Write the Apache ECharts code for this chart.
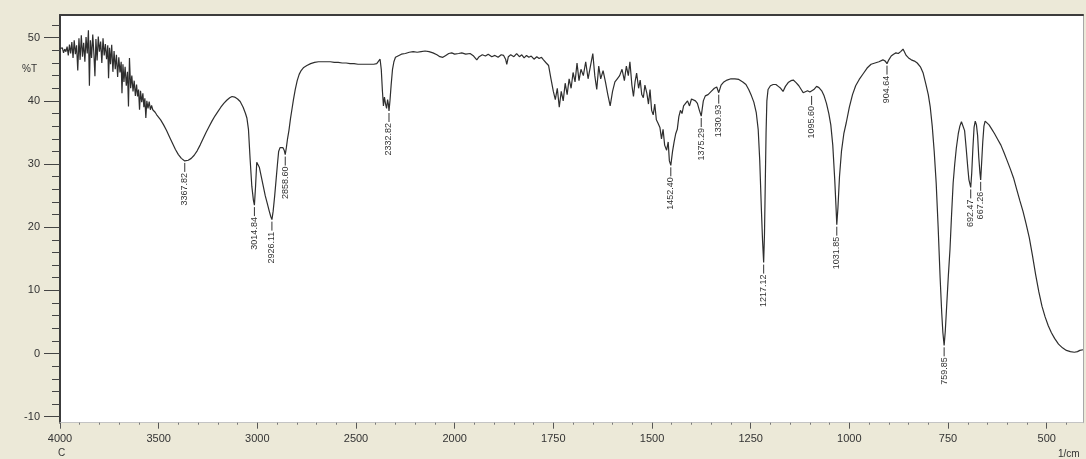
<!DOCTYPE html>
<html>
<head>
<meta charset="utf-8">
<title>IR spectrum</title>
<script src="https://cdn.jsdelivr.net/npm/echarts@6.0.0/dist/echarts.min.js"></script>
<style>
  html, body { margin: 0; padding: 0; background: #ECE9D8; }
  #chart { width: 1086px; height: 459px; }
</style>
</head>
<body>
<div id="chart"></div>
<script>
// IR transmittance spectrum, [wavenumber (1/cm), %T], split by region.
const bandOH = [
  [4000,48.3],[3994,48.0],[3988,48.4],[3982,47.6],[3976,48.2],[3970,47.8],[3964,48.6],[3958,47.2],
  [3952,48.9],[3946,47.5],[3940,49.3],[3934,46.8],[3928,49.6],[3922,47.4],[3916,48.8],[3910,44.8],
  [3904,49.9],[3898,46.5],[3892,50.4],[3886,47.0],[3880,49.2],[3874,46.2],[3868,50.1],[3862,47.5],
  [3856,51.2],[3851,42.4],[3846,49.6],[3840,46.8],[3834,50.5],[3828,47.3],[3823,43.9],[3818,49.8],
  [3812,46.4],[3806,50.2],[3800,47.8],[3794,49.4],[3788,46.0],[3782,49.9],[3776,47.2],[3770,49.0],
  [3764,46.6],[3758,48.8],[3754,43.6],[3749,48.4],[3744,45.8],[3738,48.9],[3732,44.6],[3726,47.9],
  [3720,45.0],[3714,47.3],[3708,43.8],[3702,46.9],[3696,44.5],[3690,46.2],[3686,41.2],[3681,45.8],
  [3676,43.0],[3670,45.4],[3664,42.4],[3658,44.6],[3653,39.1],[3648,46.8],[3642,42.0],[3636,44.0],
  [3630,41.5],[3624,43.2],[3618,40.8],[3612,42.6],[3607,40.7],[3602,41.8],[3597,38.6],[3592,41.6],
  [3586,39.8],[3580,41.2],[3575,39.0],[3570,40.4],[3565,37.3],[3560,40.0],[3554,38.8],[3548,39.9],
  [3542,38.6],[3536,39.3],[3530,38.6],[3524,38.9],[3518,38.2],[3510,37.8],[3500,37.4],[3490,37.0],
  [3475,36.2],[3460,35.3],[3445,34.3],[3430,33.3],[3415,32.3],[3400,31.5],[3385,30.9],[3367.82,30.5],
  [3350,30.6],[3335,30.9],[3320,31.4],[3305,32.1],[3290,33.0],[3275,34.0],[3260,35.0],[3245,35.9],
  [3230,36.8],[3215,37.6],[3200,38.3],[3185,39.0],[3170,39.6],[3155,40.1],[3140,40.5],[3128,40.7],
  [3115,40.6]
];

const bandCH = [
  [3100,40.3],[3087,39.9],[3072,39.0],[3060,38.0],[3053,37.3],[3045,35.5],[3037,31.0],[3028,26.5],
  [3020,24.3],[3014.84,23.5],[3009,26.5],[3003,30.3],[2998,30.4],[2990,29.5],[2980,28.0],[2970,26.5],
  [2960,25.0],[2950,23.8],[2940,22.6],[2932,21.7],[2926.11,21.2],[2920,22.5],[2912,25.0],[2905,27.5],
  [2898,30.0],[2892,32.0],[2885,32.6],[2877,32.4],[2870,32.6],[2864,32.2],[2858.60,31.5],[2853,32.6],
  [2847,34.0],[2840,35.3],[2832,37.2],[2825,38.6],[2817,40.2],[2808,41.8],[2798,43.2],[2788,44.2],
  [2778,44.8],[2765,45.3]
];

const midRegion = [
  [2749,45.6],[2730,45.9],[2710,46.1],[2690,46.2],[2670,46.2],[2650,46.2],[2630,46.2],[2610,46.1],
  [2590,46.1],[2570,46.0],[2550,46.0],[2530,45.9],[2510,45.9],[2490,45.8],[2470,45.8],[2450,45.8],
  [2430,45.8],[2410,45.8],[2395,45.9],[2385,46.0],[2378,46.6],[2372,45.0],[2366,41.5],[2361,39.2],
  [2356,40.6],[2350,39.5],[2345,38.8],[2340,40.2],[2336,39.5],[2332.82,38.4],[2328,40.0],[2322,42.5],
  [2315,45.0],[2308,46.2],[2300,46.9],[2290,47.2],[2270,47.4],[2250,47.5],[2230,47.7],[2210,47.8],
  [2190,47.7],[2170,47.8],[2150,47.9],[2130,47.8],[2110,47.6],[2090,47.3],[2075,47.0],[2060,46.9],
  [2045,47.2],[2030,47.5],[2015,47.6],[2000,47.4],[1990,47.5],[1982,47.6],[1972,47.4],[1961,47.5],
  [1952,47.1],[1944,46.5],[1938,47.0],[1930,47.3],[1922,47.1],[1915,47.4],[1906,47.0],[1898,47.2],
  [1890,46.9],[1882,47.3],[1876,47.2],[1871,46.6],[1868,45.8],[1864,47.0],[1858,47.3],[1850,47.0],
  [1843,47.5],[1836,47.0],[1830,47.3],[1824,46.8],[1818,47.2],[1812,46.9],[1806,47.1],[1799,46.6],
  [1792,47.0],[1786,46.7],[1780,46.9]
];

const fingerprintA = [
  [1775,46.5],[1768,46.0],[1762,45.6],[1756,43.5],[1750,41.5],[1745,40.2],[1740,42.0],[1735,39.0],
  [1730,41.5],[1725,40.0],[1720,42.8],[1715,41.0],[1710,43.5],[1705,42.0],[1700,44.5],[1695,43.0],
  [1690,46.0],[1685,43.2],[1680,45.0],[1674,44.0],[1668,46.2],[1662,43.5],[1656,45.5],[1650,47.5],
  [1645,44.0],[1640,41.8],[1635,45.5],[1630,43.5],[1624,44.8],[1618,43.0],[1612,41.0],[1606,39.2],
  [1600,41.5],[1594,43.0],[1588,43.5],[1582,44.0],[1576,45.0],[1570,43.2],[1565,45.5],[1560,44.0],
  [1556,46.2],[1551,42.5],[1547,40.7],[1543,43.0],[1539,44.4],[1534,42.0],[1530,43.3],[1526,41.0],
  [1522,40.5],[1518,42.5],[1513,41.2],[1509,39.5],[1505,41.8],[1501,38.5],[1497,37.8],[1493,39.5],
  [1489,37.0],[1485,36.5],[1480,35.8],[1476,34.0],[1472,35.5],[1468,33.0],[1463,32.2],[1459,33.5],
  [1456,30.5],[1452.40,29.8],[1448,32.0],[1444,33.5],[1440,34.8],[1436,35.5],[1432,37.5],[1428,38.5],
  [1424,38.0],[1420,39.2],[1415,39.5],[1410,40.0],[1405,39.2],[1400,40.3],[1395,40.5],[1390,40.0],
  [1385,39.6],[1380,38.5],[1375.29,37.6],[1370,40.0],[1365,40.8],[1358,41.0],[1350,41.5],[1342,42.0],
  [1336,42.2],[1330.93,41.3],[1325,42.5],[1318,43.0],[1310,43.3],[1300,43.5],[1290,43.5],[1280,43.4],
  [1270,43.0],[1262,42.6],[1255,41.8],[1248,40.8],[1242,39.8],[1236,38.2],[1231,35.5],[1227,30.5],
  [1223,23.0],[1220,18.0],[1217.12,14.4],[1215,19.0],[1213,27.0],[1211,35.0],[1209,40.0]
];

const fingerprintB = [
  [1206,41.8],[1200,42.4],[1193,42.6],[1186,42.6],[1180,42.3],[1174,42.0],[1168,41.5],[1162,42.3],
  [1155,42.9],[1148,43.2],[1142,43.3],[1135,42.9],[1128,42.4],[1122,41.8],[1117,41.3],[1112,41.5],
  [1106,41.6],[1100,41.4],[1095.60,41.1],[1090,41.8],[1083,42.3],[1077,42.1],[1070,41.6],[1064,40.8],
  [1058,39.6],[1052,38.0],[1047,36.2],[1042,33.0],[1037,27.5],[1034,23.5],[1031.85,20.4],[1029,23.0],
  [1025,28.0],[1020,32.0],[1014,34.8],[1008,36.5],[1000,39.0],[992,41.0],[984,42.4],[975,43.4],
  [965,44.3],[955,45.2],[945,45.8],[935,46.0],[925,46.2],[915,46.5],[909,46.3],[904.64,45.9],
  [900,46.5],[894,47.1],[888,47.4],[882,47.6],[876,47.5],[870,47.8],[864,48.2],[860,48.0],
  [856,47.2],[850,46.8],[843,46.5],[835,46.3],[828,46.0],[820,45.4],[813,44.4],[806,42.6],
  [800,41.0],[795,39.0],[790,36.0],[785,32.0],[780,27.0],[775,20.0],[770,12.0],[766,6.5],
  [763,3.3],[759.85,1.3],[757,3.5],[753,8.0],[749,12.5],[745,16.5],[741,22.0],[737,27.0],
  [733,30.0],[729,32.5],[724,34.8],[720,36.0],[716,36.7],[712,36.4],[708,35.3],[704,32.5],
  [700,29.5],[697,27.5],[692.47,26.3],[690,28.5],[687,32.5],[684,35.8],[681,36.8],[678,36.2],
  [675,34.5],[672,31.0],[669,28.5],[667.26,27.5],[665,30.0],[662,33.5],[659,36.0],[656,36.8],
  [652,36.6],[646,36.2],[640,35.6],[632,34.8],[624,33.9],[616,33.0],[608,31.8],[600,30.5],
  [592,29.2],[584,27.8],[576,26.0],[568,24.2],[560,22.5],[552,20.5],[544,18.3],[536,15.5],
  [528,12.5],[520,9.8],[512,7.5],[504,5.8],[496,4.4],[488,3.3],[480,2.4],[470,1.5],
  [460,0.9],[450,0.5],[440,0.3],[430,0.2],[422,0.3],[416,0.5],[412,0.7],[408,0.6]
];

// Annotated band positions (1/cm)
const peakWavenumbers = [3367.82, 3014.84, 2926.11, 2858.60, 2332.82, 1452.40, 1375.29, 1330.93,
                         1217.12, 1095.60, 1031.85, 904.64, 759.85, 692.47, 667.26];

// Axis tick labels
const xTickLabels = [4000, 3500, 3000, 2500, 2000, 1750, 1500, 1250, 1000, 750, 500];
const yTickLabels = [-10, 0, 10, 20, 30, 40, 50];

const spectrum = [].concat(bandOH, bandCH, midRegion, fingerprintA, fingerprintB);

// The wavenumber axis is compressed by half above 2000 1/cm.
const toAxis = w => (w <= 2000 ? w : 2000 + (w - 2000) / 2);
const fromAxis = u => (u <= 2000 ? u : 2000 + (u - 2000) * 2);

const X_MIN = 408;
const X_MAX = toAxis(4000);
const Y_MIN = -10.95;
const Y_MAX = 53.6;

// minor ticks: every 100 above 2000, every 50 below
const xMinor = [];
for (let w = 3900; w > 2000; w -= 100) if (w % 500 !== 0) xMinor.push(toAxis(w));
for (let w = 1950; w > X_MIN; w -= 50) if (w % 250 !== 0) xMinor.push(w);
const yMinor = [];
for (let v = -8; v <= 52; v += 2) if (v % 10 !== 0) yMinor.push(v);

const lineData = spectrum.map(p => [toAxis(p[0]), p[1]]);
const peakData = peakWavenumbers.map(w => {
  const hit = spectrum.find(p => p[0] === w);
  return [toAxis(w), hit[1]];
});
const peakLabels = peakWavenumbers.map(w => w.toFixed(2));

const textColor = '#333';
const labelFont = 11;

const chart = echarts.init(document.getElementById('chart'), null, { renderer: 'canvas' });
chart.setOption({
  animation: false,
  backgroundColor: '#ECE9D8',
  grid: {
    left: 60, top: 15, width: 1023, height: 407.7,
    show: true, backgroundColor: '#ffffff', borderWidth: 0
  },
  xAxis: [
    {
      type: 'value', min: X_MIN, max: X_MAX, inverse: true, position: 'bottom',
      axisLine: { show: true, onZero: false, lineStyle: { color: '#c4c4c4', width: 1 } },
      axisTick: { show: true, customValues: xTickLabels.map(toAxis), length: 6,
                  lineStyle: { color: '#555', width: 1 } },
      axisLabel: { customValues: xTickLabels.map(toAxis), formatter: v => String(Math.round(fromAxis(v))),
                   color: textColor, fontSize: labelFont, margin: 11, fontFamily: 'Liberation Sans, Arial, sans-serif' },
      splitLine: { show: false }
    },
    {
      type: 'value', min: X_MIN, max: X_MAX, inverse: true, position: 'bottom',
      axisLine: { show: false, onZero: false },
      axisTick: { show: true, customValues: xMinor, length: 2, lineStyle: { color: '#777', width: 1 } },
      axisLabel: { show: false },
      splitLine: { show: false }
    },
    {
      type: 'value', min: X_MIN, max: X_MAX, inverse: true, position: 'top',
      axisLine: { show: true, onZero: false, lineStyle: { color: '#3c3c3c', width: 2 } },
      axisTick: { show: false }, axisLabel: { show: false }, splitLine: { show: false }
    }
  ],
  yAxis: [
    {
      type: 'value', min: Y_MIN, max: Y_MAX, position: 'left',
      axisLine: { show: true, onZero: false, lineStyle: { color: '#3c3c3c', width: 2 } },
      axisTick: { show: true, customValues: yTickLabels, length: 16, lineStyle: { color: '#444', width: 1 } },
      axisLabel: { customValues: yTickLabels, color: textColor, fontSize: labelFont, margin: 20,
                   fontFamily: 'Liberation Sans, Arial, sans-serif' },
      splitLine: { show: false }
    },
    {
      type: 'value', min: Y_MIN, max: Y_MAX, position: 'left',
      axisLine: { show: false, onZero: false },
      axisTick: { show: true, customValues: yMinor, length: 8, lineStyle: { color: '#444', width: 1 } },
      axisLabel: { show: false },
      splitLine: { show: false }
    },
    {
      type: 'value', min: Y_MIN, max: Y_MAX, position: 'right',
      axisLine: { show: true, onZero: false, lineStyle: { color: '#a8a8a8', width: 1 } },
      axisTick: { show: false }, axisLabel: { show: false }, splitLine: { show: false }
    }
  ],
  graphic: [
    { type: 'text', left: 22, top: 64, style: { text: '%T', fill: textColor, font: '10px "Liberation Sans", Arial, sans-serif' } },
    { type: 'text', left: 58, top: 448, style: { text: 'C', fill: textColor, font: '10px "Liberation Sans", Arial, sans-serif' } },
    { type: 'text', left: 1058, top: 449, style: { text: '1/cm', fill: textColor, font: '10px "Liberation Sans", Arial, sans-serif' } }
  ],
  series: [
    {
      type: 'line', name: '%T', data: lineData, xAxisIndex: 0, yAxisIndex: 0,
      showSymbol: false, symbol: 'none', smooth: false,
      lineStyle: { color: '#2e2e2e', width: 1.2 }
    },
    {
      type: 'custom', name: 'peaks', data: peakData, xAxisIndex: 0, yAxisIndex: 0,
      renderItem: (params, api) => {
        const pt = api.coord([api.value(0), api.value(1)]);
        return {
          type: 'group',
          children: [
            { type: 'line', shape: { x1: pt[0], y1: pt[1] + 2, x2: pt[0], y2: pt[1] + 11 },
              style: { stroke: '#333', lineWidth: 1 } },
            { type: 'text', x: pt[0], y: pt[1] + 12, rotation: Math.PI / 2,
              style: { text: peakLabels[params.dataIndex], align: 'right', verticalAlign: 'middle',
                       fill: '#333', font: '9px "Liberation Sans", Arial, sans-serif' } }
          ]
        };
      }
    }
  ]
});
</script>
</body>
</html>
